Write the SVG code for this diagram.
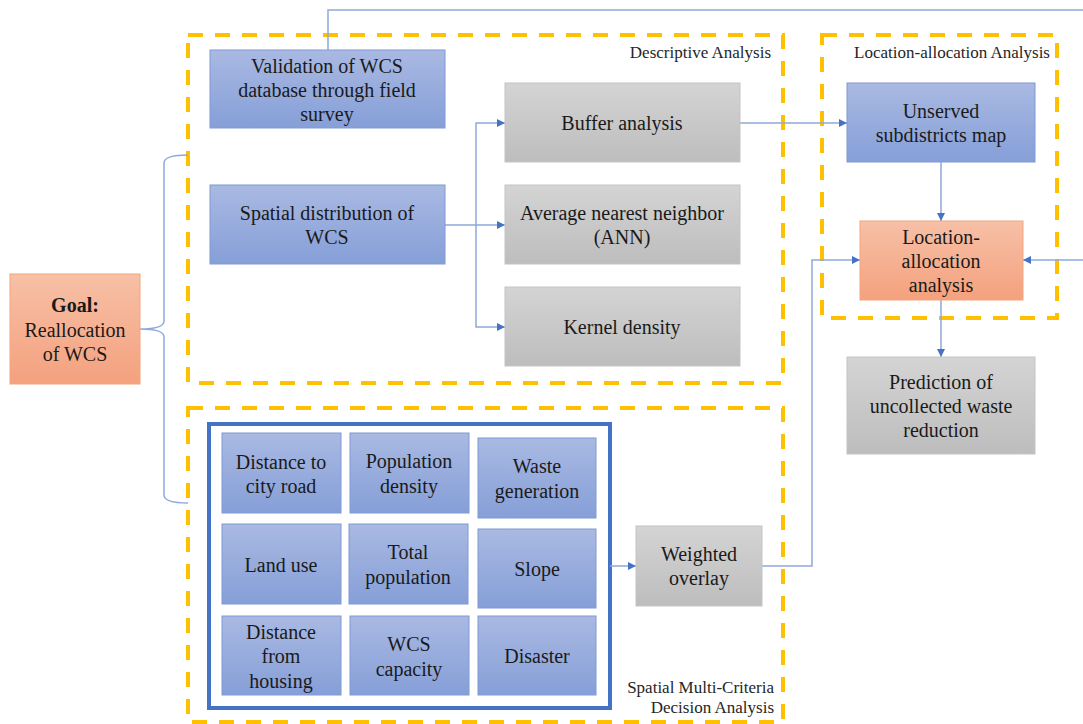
<svg xmlns="http://www.w3.org/2000/svg" width="1083" height="724" viewBox="0 0 1083 724">
<defs>
<linearGradient id="gBlue" x1="0" y1="0" x2="0" y2="1"><stop offset="0" stop-color="#A9B9E2"/><stop offset="1" stop-color="#869FD8"/></linearGradient>
<linearGradient id="gGray" x1="0" y1="0" x2="0" y2="1"><stop offset="0" stop-color="#D4D4D4"/><stop offset="1" stop-color="#BDBDBD"/></linearGradient>
<linearGradient id="gOrange" x1="0" y1="0" x2="0" y2="1"><stop offset="0" stop-color="#F7C0A6"/><stop offset="1" stop-color="#F4A17E"/></linearGradient>
<marker id="arr" viewBox="0 0 10 10" refX="10" refY="5" markerWidth="8" markerHeight="8" markerUnits="userSpaceOnUse" orient="auto"><path d="M0,0 L10,5 L0,10 z" fill="#4472C4"/></marker>
<style>
.blue{fill:url(#gBlue);stroke:#7F9AD6;stroke-width:1}
.gray{fill:url(#gGray);stroke:#C4C4C4;stroke-width:1}
.orange{fill:url(#gOrange);stroke:#F4A57C;stroke-width:1}
.dash{fill:none;stroke:#FFC000;stroke-width:4;stroke-dasharray:15 12}
.frame{fill:none;stroke:#4472C4;stroke-width:4}
.t{font-family:'Liberation Serif','Tinos','DejaVu Serif',serif;font-size:20px;fill:#1A1A1A;text-anchor:middle}
.lbl{font-family:'Liberation Serif','Tinos','DejaVu Serif',serif;font-size:17px;fill:#262626;text-anchor:end}
.c{fill:none;stroke:#8EA9DB;stroke-width:1.5}
.ca{fill:none;stroke:#8EA9DB;stroke-width:1.5;marker-end:url(#arr)}
</style>
</defs>

<g id="containers">
<rect class="dash" x="188" y="35" width="595" height="348"/>
<rect class="dash" x="822" y="35" width="235" height="283"/>
<rect class="dash" x="188" y="408" width="595" height="314"/>
<rect class="frame" x="209" y="424" width="401" height="284"/>
<text class="lbl" x="771" y="58">Descriptive Analysis</text>
<text class="lbl" x="1050" y="58">Location-allocation Analysis</text>
<text class="lbl" x="774" y="693">Spatial Multi-Criteria</text>
<text class="lbl" x="774" y="713">Decision Analysis</text>
</g>

<g id="connectors">
<path class="c" d="M188,155 Q164,155 164,163 L164,321 Q164,329 140,329 Q164,329 164,337 L164,495 Q164,503 188,503"/>
<path class="c" d="M328,50 L328,10 L1083,10"/>
<path class="c" d="M445,225 L476,225"/>
<path class="ca" d="M476,225 L476,123 L505,123"/>
<path class="ca" d="M476,225 L505,225"/>
<path class="ca" d="M476,225 L476,327 L505,327"/>
<path class="ca" d="M740,123 L847,123"/>
<path class="ca" d="M941,162 L941,221"/>
<path class="ca" d="M941,300 L941,357"/>
<path class="ca" d="M610,566 L636,566"/>
<path class="ca" d="M762,566 L812,566 L812,260 L860,260"/>
<path class="ca" d="M1083,260 L1023,260"/>
</g>

<g id="goal">
<rect class="orange" x="10" y="274" width="130" height="110"/>
<text class="t" x="75" y="312" font-weight="bold">Goal:</text>
<text class="t" x="75" y="337">Reallocation</text>
<text class="t" x="75" y="361">of WCS</text>
</g>

<g id="validation">
<rect class="blue" x="210" y="50" width="235" height="78"/>
<text class="t" x="327" y="73">Validation of WCS</text>
<text class="t" x="327" y="97">database through field</text>
<text class="t" x="327" y="121">survey</text>
</g>

<g id="spatial-distribution">
<rect class="blue" x="210" y="185" width="235" height="79"/>
<text class="t" x="327" y="220">Spatial distribution of</text>
<text class="t" x="327" y="244">WCS</text>
</g>

<g id="buffer">
<rect class="gray" x="505" y="83" width="235" height="79"/>
<text class="t" x="622" y="130">Buffer analysis</text>
</g>

<g id="ann">
<rect class="gray" x="505" y="185" width="235" height="79"/>
<text class="t" x="622" y="220">Average nearest neighbor</text>
<text class="t" x="622" y="244">(ANN)</text>
</g>

<g id="kernel">
<rect class="gray" x="505" y="287" width="235" height="79"/>
<text class="t" x="622" y="334">Kernel density</text>
</g>

<g id="unserved">
<rect class="blue" x="847" y="83" width="188" height="79"/>
<text class="t" x="941" y="118">Unserved</text>
<text class="t" x="941" y="142">subdistricts map</text>
</g>

<g id="location-allocation">
<rect class="orange" x="860" y="221" width="163" height="79"/>
<text class="t" x="941" y="244">Location-</text>
<text class="t" x="941" y="268">allocation</text>
<text class="t" x="941" y="292">analysis</text>
</g>

<g id="prediction">
<rect class="gray" x="847" y="357" width="188" height="97"/>
<text class="t" x="941" y="389">Prediction of</text>
<text class="t" x="941" y="413">uncollected waste</text>
<text class="t" x="941" y="437">reduction</text>
</g>

<g id="weighted-overlay">
<rect class="gray" x="636" y="526" width="126" height="80"/>
<text class="t" x="699" y="561">Weighted</text>
<text class="t" x="699" y="585">overlay</text>
</g>

<g id="distance-road">
<rect class="blue" x="222" y="433" width="119" height="80"/>
<text class="t" x="281" y="469">Distance to</text>
<text class="t" x="281" y="493">city road</text>
</g>
<g id="population-density">
<rect class="blue" x="350" y="433" width="119" height="80"/>
<text class="t" x="409" y="468">Population</text>
<text class="t" x="409" y="493">density</text>
</g>
<g id="waste-generation">
<rect class="blue" x="478" y="438" width="118" height="80"/>
<text class="t" x="537" y="473">Waste</text>
<text class="t" x="537" y="498">generation</text>
</g>
<g id="land-use">
<rect class="blue" x="222" y="524" width="119" height="80"/>
<text class="t" x="281" y="572">Land use</text>
</g>
<g id="total-population">
<rect class="blue" x="349" y="524" width="119" height="80"/>
<text class="t" x="408" y="559">Total</text>
<text class="t" x="408" y="584">population</text>
</g>
<g id="slope">
<rect class="blue" x="478" y="529" width="118" height="79"/>
<text class="t" x="537" y="576">Slope</text>
</g>
<g id="distance-housing">
<rect class="blue" x="222" y="616" width="119" height="79"/>
<text class="t" x="281" y="639">Distance</text>
<text class="t" x="281" y="663">from</text>
<text class="t" x="281" y="688">housing</text>
</g>
<g id="wcs-capacity">
<rect class="blue" x="350" y="616" width="119" height="79"/>
<text class="t" x="409" y="651">WCS</text>
<text class="t" x="409" y="676">capacity</text>
</g>
<g id="disaster">
<rect class="blue" x="478" y="616" width="118" height="79"/>
<text class="t" x="537" y="663">Disaster</text>
</g>
</svg>
